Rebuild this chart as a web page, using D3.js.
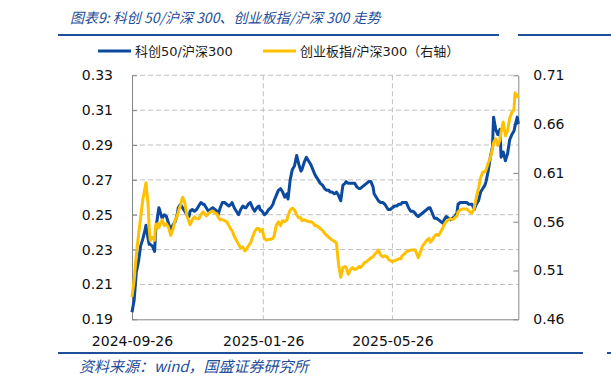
<!DOCTYPE html>
<html>
<head>
<meta charset="utf-8">
<script src="https://cdn.jsdelivr.net/npm/d3@7"></script>
<style>
  body { margin: 0; background: #fff; }
  svg text { font-family: "DejaVu Sans", "Noto Sans CJK SC", sans-serif; }
</style>
</head>
<body>
<div id="chart"></div>
<script>
// dates of the two ratio series
var dates = [
  "2024-09-26","2024-09-28","2024-09-30","2024-10-02","2024-10-04","2024-10-06","2024-10-08","2024-10-09","2024-10-11","2024-10-12",
  "2024-10-13","2024-10-15","2024-10-17","2024-10-18","2024-10-20","2024-10-21","2024-10-24","2024-10-26","2024-10-28","2024-10-30",
  "2024-11-01","2024-11-03","2024-11-05","2024-11-07","2024-11-08","2024-11-10","2024-11-12","2024-11-14","2024-11-16","2024-11-18",
  "2024-11-19","2024-11-21","2024-11-23","2024-11-25","2024-11-27","2024-11-29","2024-12-01","2024-12-02","2024-12-04","2024-12-06",
  "2024-12-08","2024-12-10","2024-12-12","2024-12-14","2024-12-15","2024-12-17","2024-12-19","2024-12-21","2024-12-23","2024-12-25",
  "2024-12-27","2024-12-28","2024-12-30","2025-01-01","2025-01-03","2025-01-05","2025-01-07","2025-01-09","2025-01-10","2025-01-12",
  "2025-01-14","2025-01-16","2025-01-18","2025-01-20","2025-01-22","2025-01-23","2025-01-25","2025-01-27","2025-01-29","2025-01-31",
  "2025-02-02","2025-02-04","2025-02-05","2025-02-07","2025-02-09","2025-02-11","2025-02-13","2025-02-15","2025-02-17","2025-02-18",
  "2025-02-20","2025-02-22","2025-02-24","2025-02-26","2025-02-28","2025-03-02","2025-03-03","2025-03-05","2025-03-07","2025-03-09",
  "2025-03-11","2025-03-13","2025-03-15","2025-03-16","2025-03-18","2025-03-20","2025-03-22","2025-03-24","2025-03-26","2025-03-28",
  "2025-03-29","2025-03-31","2025-04-02","2025-04-04","2025-04-06","2025-04-08","2025-04-10","2025-04-12","2025-04-13","2025-04-15",
  "2025-04-17","2025-04-19","2025-04-21","2025-04-23","2025-04-25","2025-04-26","2025-04-28","2025-04-30","2025-05-02","2025-05-04",
  "2025-05-06","2025-05-08","2025-05-09","2025-05-11","2025-05-13","2025-05-15","2025-05-17","2025-05-19","2025-05-21","2025-05-22",
  "2025-05-24","2025-05-26","2025-05-28","2025-05-30","2025-06-01","2025-06-03","2025-06-04","2025-06-06","2025-06-08","2025-06-10",
  "2025-06-12","2025-06-14","2025-06-16","2025-06-17","2025-06-19","2025-06-21","2025-06-23","2025-06-25","2025-06-27","2025-06-29",
  "2025-06-30","2025-07-02","2025-07-04","2025-07-06","2025-07-08","2025-07-10","2025-07-12","2025-07-13","2025-07-15","2025-07-17",
  "2025-07-19","2025-07-21","2025-07-23","2025-07-25","2025-07-26","2025-07-28","2025-07-30","2025-08-01","2025-08-03","2025-08-05",
  "2025-08-07","2025-08-08","2025-08-10","2025-08-12","2025-08-14","2025-08-16","2025-08-18","2025-08-20","2025-08-21","2025-08-23",
  "2025-08-25","2025-08-27","2025-08-28","2025-08-30","2025-09-01","2025-09-03","2025-09-04","2025-09-06","2025-09-08","2025-09-10",
  "2025-09-12","2025-09-14","2025-09-16","2025-09-17","2025-09-19","2025-09-20"
];

// 科创50/沪深300 (left axis)
var kc50 = [
  0.194,0.201,0.217,0.223,0.232,0.236,0.241,0.244,0.236,0.233,
  0.233,0.232,0.229,0.241,0.250,0.254,0.248,0.250,0.249,0.245,
  0.241,0.244,0.246,0.250,0.254,0.256,0.254,0.252,0.250,0.249,
  0.252,0.253,0.252,0.253,0.255,0.257,0.256,0.256,0.254,0.252,
  0.253,0.254,0.253,0.252,0.250,0.254,0.257,0.257,0.256,0.255,
  0.256,0.257,0.254,0.252,0.250,0.253,0.255,0.254,0.254,0.256,
  0.257,0.254,0.252,0.254,0.255,0.253,0.252,0.250,0.251,0.253,
  0.254,0.256,0.258,0.261,0.264,0.265,0.263,0.260,0.262,0.259,
  0.270,0.276,0.278,0.284,0.279,0.275,0.276,0.280,0.283,0.281,
  0.279,0.276,0.273,0.272,0.270,0.268,0.267,0.265,0.264,0.264,
  0.263,0.263,0.262,0.263,0.261,0.258,0.267,0.268,0.269,0.268,
  0.268,0.268,0.268,0.266,0.265,0.265,0.266,0.267,0.268,0.269,
  0.269,0.266,0.262,0.260,0.258,0.257,0.257,0.256,0.254,0.253,
  0.253,0.254,0.255,0.255,0.256,0.256,0.257,0.257,0.257,0.254,
  0.252,0.252,0.251,0.250,0.249,0.250,0.251,0.252,0.253,0.254,
  0.254,0.251,0.248,0.248,0.247,0.246,0.245,0.247,0.249,0.248,
  0.247,0.248,0.249,0.251,0.256,0.257,0.257,0.257,0.257,0.256,
  0.256,0.256,0.253,0.256,0.258,0.263,0.265,0.267,0.269,0.275,
  0.283,0.289,0.306,0.299,0.296,0.299,0.283,0.286,0.281,0.285,
  0.293,0.296,0.298,0.301,0.306,0.302
];

// 创业板指/沪深300 (right axis)
var cyb = [
  0.483,0.500,0.526,0.546,0.564,0.582,0.594,0.600,0.577,0.552,
  0.541,0.544,0.541,0.557,0.558,0.554,0.562,0.556,0.558,0.554,
  0.546,0.552,0.561,0.566,0.570,0.577,0.585,0.580,0.566,0.560,
  0.557,0.562,0.565,0.563,0.563,0.567,0.570,0.569,0.566,0.568,
  0.570,0.571,0.569,0.568,0.565,0.562,0.562,0.561,0.560,0.556,
  0.552,0.551,0.545,0.541,0.537,0.533,0.534,0.530,0.531,0.535,
  0.538,0.544,0.550,0.553,0.553,0.550,0.552,0.543,0.541,0.542,
  0.542,0.543,0.545,0.556,0.560,0.556,0.561,0.560,0.562,0.566,
  0.572,0.574,0.572,0.567,0.564,0.564,0.561,0.562,0.561,0.560,
  0.560,0.559,0.556,0.556,0.555,0.553,0.551,0.548,0.546,0.544,
  0.543,0.541,0.540,0.538,0.516,0.503,0.513,0.514,0.513,0.506,
  0.511,0.513,0.511,0.512,0.514,0.513,0.515,0.518,0.519,0.521,
  0.523,0.524,0.526,0.528,0.531,0.526,0.524,0.525,0.524,0.522,
  0.520,0.519,0.520,0.521,0.522,0.522,0.525,0.527,0.529,0.530,
  0.531,0.531,0.531,0.529,0.523,0.529,0.535,0.538,0.541,0.543,
  0.539,0.541,0.545,0.547,0.546,0.550,0.554,0.557,0.560,0.562,
  0.563,0.562,0.564,0.566,0.570,0.572,0.573,0.573,0.573,0.571,
  0.569,0.569,0.574,0.585,0.594,0.605,0.611,0.611,0.613,0.620,
  0.625,0.635,0.641,0.645,0.638,0.644,0.652,0.662,0.648,0.653,
  0.666,0.672,0.675,0.692,0.689,0.687
];

var leftTicks = [0.19, 0.21, 0.23, 0.25, 0.27, 0.29, 0.31, 0.33];
var rightTicks = [0.46, 0.51, 0.56, 0.61, 0.66, 0.71];
var dateTicks = ["2024-09-26", "2025-01-26", "2025-05-26"];

var seriesNames = ["科创50/沪深300", "创业板指/沪深300（右轴）"];
var titleText = "图表9:  科创 50/沪深 300、创业板指/沪深 300 走势";
var sourceText = "资料来源：wind，国盛证券研究所";

var BLUE = "#0b4a9e", YELLOW = "#ffc000", NAVY = "#1f4e9a";

var width = 611, height = 386;
var plotL = 132, plotR = 518.3, plotT = 75.3, plotB = 319.3;

var parse = d3.timeParse("%Y-%m-%d");
var fmt = d3.timeFormat("%Y-%m-%d");

var rows = dates.map(function (d, i) {
    return {date: parse(d), a: kc50[i], b: cyb[i]};
});

var svg = d3.select("#chart").append("svg").attr("width", width).attr("height", height);

var x = d3.scaleTime().domain([rows[0].date, rows[rows.length - 1].date]).range([plotL, plotR]);
var yL = d3.scaleLinear().domain([0.19, 0.33]).range([plotB, plotT]);
var yR = d3.scaleLinear().domain([0.46, 0.71]).range([plotB, plotT]);

// title + rules
svg.append("text").attr("x", 70).attr("y", 23)
    .attr("font-size", 14).attr("font-style", "italic").attr("fill", NAVY)
    .style("font-family", "'Noto Sans CJK SC', sans-serif")
    .text(titleText);
svg.append("line").attr("x1", 58).attr("x2", 499).attr("y1", 35).attr("y2", 35)
    .attr("stroke", NAVY).attr("stroke-width", 2);
svg.append("line").attr("x1", 518).attr("x2", 611).attr("y1", 35).attr("y2", 35)
    .attr("stroke", NAVY).attr("stroke-width", 2);
svg.append("line").attr("x1", 58).attr("x2", 583).attr("y1", 353).attr("y2", 353)
    .attr("stroke", NAVY).attr("stroke-width", 2);
svg.append("line").attr("x1", 607).attr("x2", 611).attr("y1", 353).attr("y2", 353)
    .attr("stroke", NAVY).attr("stroke-width", 2);
svg.append("text").attr("x", 79).attr("y", 372)
    .attr("font-size", 15).attr("font-style", "italic").attr("fill", NAVY)
    .style("font-family", "'Noto Sans CJK SC', sans-serif")
    .text(sourceText);

// legend
var legend = [{x: 98, color: BLUE, name: seriesNames[0]}, {x: 263, color: YELLOW, name: seriesNames[1]}];
legend.forEach(function (l) {
    svg.append("line").attr("x1", l.x).attr("x2", l.x + 33).attr("y1", 51).attr("y2", 51)
        .attr("stroke", l.color).attr("stroke-width", 3);
    svg.append("text").attr("x", l.x + 37).attr("y", 51).attr("dy", "0.35em")
        .attr("font-size", 13).attr("fill", "#1a1a1a").text(l.name);
});

// grid
var grid = svg.append("g");
leftTicks.slice(1).forEach(function (t) {
    grid.append("line").attr("x1", plotL).attr("x2", plotR).attr("y1", yL(t)).attr("y2", yL(t))
        .attr("stroke", "#c0c0c0").attr("stroke-dasharray", "5,3");
});
dateTicks.slice(1).forEach(function (t) {
    grid.append("line").attr("x1", x(parse(t))).attr("x2", x(parse(t))).attr("y1", plotT).attr("y2", plotB)
        .attr("stroke", "#c0c0c0").attr("stroke-dasharray", "5,3");
});

// axes
var axL = svg.append("g").attr("transform", "translate(" + plotL + ",0)")
    .call(d3.axisLeft(yL).tickValues(leftTicks).tickFormat(d3.format(".2f"))
        .tickSizeInner(-5).tickSizeOuter(0).tickPadding(19));
var axR = svg.append("g").attr("transform", "translate(" + plotR + ",0)")
    .call(d3.axisRight(yR).tickValues(rightTicks).tickFormat(d3.format(".2f"))
        .tickSizeInner(-5).tickSizeOuter(0).tickPadding(15));
var axB = svg.append("g").attr("transform", "translate(0," + plotB + ")")
    .call(d3.axisBottom(x).tickValues(dateTicks.map(parse)).tickFormat(fmt)
        .tickSizeInner(0).tickSizeOuter(0).tickPadding(17));

[axL, axR, axB].forEach(function (g) {
    g.selectAll("path, line").attr("stroke", "#868686");
    g.selectAll("text").attr("font-size", 14).attr("fill", "#111")
        .style("font-family", "'DejaVu Sans', sans-serif");
});

// series
var lineA = d3.line().x(function (d) { return x(d.date); }).y(function (d) { return yL(d.a); });
var lineB = d3.line().x(function (d) { return x(d.date); }).y(function (d) { return yR(d.b); });

svg.append("path").datum(rows).attr("d", lineA)
    .attr("fill", "none").attr("stroke", BLUE).attr("stroke-width", 3).attr("stroke-linejoin", "round");
svg.append("path").datum(rows).attr("d", lineB)
    .attr("fill", "none").attr("stroke", YELLOW).attr("stroke-width", 3).attr("stroke-linejoin", "round");
</script>
</body>
</html>
